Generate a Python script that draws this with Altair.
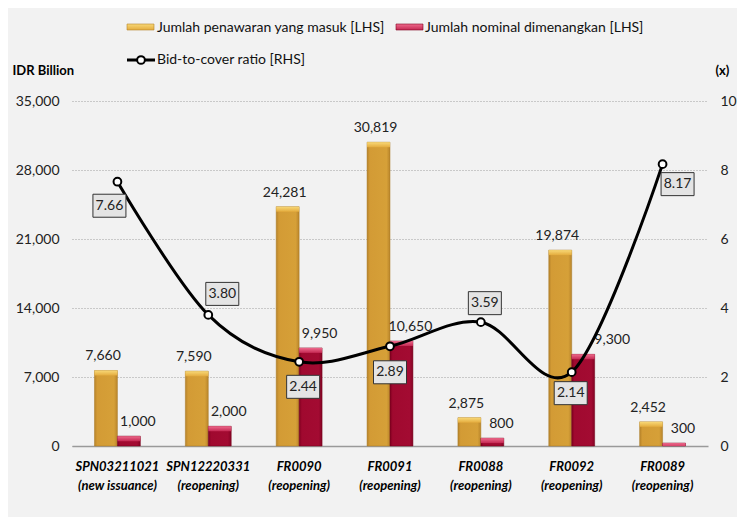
import altair as alt
import pandas as pd

# ---------------- data ----------------
CODES = ["SPN03211021", "SPN12220331", "FR0090", "FR0091", "FR0088", "FR0092", "FR0089"]
TYPES = ["(new issuance)", "(reopening)", "(reopening)", "(reopening)",
         "(reopening)", "(reopening)", "(reopening)"]
BIDS = [7660, 7590, 24281, 30819, 2875, 19874, 2452]
AWARDED = [1000, 2000, 9950, 10650, 800, 9300, 300]
RATIO = [7.66, 3.80, 2.44, 2.89, 3.59, 2.14, 8.17]
SERIES = ["Jumlah penawaran yang masuk [LHS]",
          "Jumlah nominal dimenangkan [LHS]",
          "Bid-to-cover ratio [RHS]"]
LEFT_TICKS = [0, 7000, 14000, 21000, 28000, 35000]
RIGHT_TICKS = [0, 2, 4, 6, 8, 10]

# ---------------- style ----------------
FONT = "Lato"
RATIO_LABEL_OFFSETS = [(-8, 24), (14, -21), (4, 25), (0, 26), (4, -19), (-1, 21), (15, 20)]
BOX_PATH = "M-1,-0.697L1,-0.697L1,0.697L-1,0.697Z"

labels = [f"{c}|{t}" for c, t in zip(CODES, TYPES)]

bar_df = pd.DataFrame({
    "label": labels * 2,
    "code": CODES * 2,
    "series": [SERIES[0]] * len(CODES) + [SERIES[1]] * len(CODES),
    "value": BIDS + AWARDED,
})
line_df = pd.DataFrame({"label": labels, "ratio": RATIO, "idx": list(range(len(CODES)))})

x_scale = alt.Scale(domain=labels, paddingInner=0.495, paddingOuter=0.2475)
x_axis = alt.Axis(
    title=None, labelExpr="split(datum.label, '|')", labelAngle=0,
    labelFontSize=13, labelFontWeight="bold", labelFontStyle="italic",
    labelColor="#000000", labelLineHeight=19, labelPadding=14,
    labelBaseline="top", domain=True, domainColor="#9a9a9a", domainWidth=1.5,
    ticks=False, grid=False, labelFont=FONT)
X = alt.X("label:N", sort=labels, scale=x_scale, axis=x_axis)
XOFF = alt.XOffset("series:N", sort=SERIES[:2], scale=alt.Scale(domain=SERIES[:2]))

y_left_axis = alt.Axis(
    values=LEFT_TICKS, labelExpr="format(datum.value, ',')", grid=True,
    gridDash=[1, 2], gridColor="#a0a0a0",
    gridWidth=1, domain=False, ticks=False, labelPadding=13, labelFontSize=14,
    labelColor="#222222", labelFont=FONT,
    title="IDR Billion", titleAngle=0, titleX=-60, titleY=-31, titleAlign="left",
    titleBaseline="middle", titleFontWeight="bold", titleFontSize=13,
    titleFont=FONT, titleColor="#000000")
YL = alt.Y("value:Q", scale=alt.Scale(domain=[0, 35000], nice=False, zero=True), axis=y_left_axis)

y_right_axis = alt.Axis(
    orient="right", values=RIGHT_TICKS, grid=False, domain=False, ticks=False,
    labelPadding=12, labelFontSize=14, labelColor="#222222", labelFont=FONT,
    title="(x)", titleAngle=0, titleX=7, titleY=-31, titleAlign="left",
    titleBaseline="middle", titleFontWeight="bold", titleFontSize=13,
    titleFont=FONT, titleColor="#000000")
YR = alt.Y("ratio:Q", scale=alt.Scale(domain=[0, 10], nice=False, zero=True), axis=y_right_axis)

gold_grad = alt.Gradient(gradient="linear", x1=0, x2=1, y1=0, y2=0, stops=[
    alt.GradientStop(color="#B7832A", offset=0),
    alt.GradientStop(color="#D39B35", offset=0.12),
    alt.GradientStop(color="#D6A038", offset=0.85),
    alt.GradientStop(color="#B9852B", offset=1)])
red_grad = alt.Gradient(gradient="linear", x1=0, x2=1, y1=0, y2=0, stops=[
    alt.GradientStop(color="#800020", offset=0),
    alt.GradientStop(color="#A0092F", offset=0.12),
    alt.GradientStop(color="#A30B32", offset=0.85),
    alt.GradientStop(color="#850324", offset=1)])
gold_bevel_grad = alt.Gradient(gradient="linear", x1=0, x2=0, y1=0, y2=1, stops=[
    alt.GradientStop(color="#F8D877", offset=0),
    alt.GradientStop(color="#E4AC3E", offset=1)])
red_bevel_grad = alt.Gradient(gradient="linear", x1=0, x2=0, y1=0, y2=1, stops=[
    alt.GradientStop(color="#EE6A8C", offset=0),
    alt.GradientStop(color="#C42852", offset=1)])

base_bar = alt.Chart(bar_df)
is_gold = alt.datum.series == SERIES[0]
is_red = alt.datum.series == SERIES[1]

bars_gold = base_bar.transform_filter(is_gold).mark_bar(
    fill=gold_grad, stroke="#A97A25", strokeWidth=0.5).encode(x=X, xOffset=XOFF, y=YL)
bars_red = base_bar.transform_filter(is_red).mark_bar(
    fill=red_grad, stroke="#700018", strokeWidth=0.5).encode(x=X, xOffset=XOFF, y=YL)
bevel_gold = base_bar.transform_filter(is_gold).mark_bar(
    fill=gold_bevel_grad, y2Offset=5, clip=True).encode(
    x=X, xOffset=XOFF, y=YL, y2=alt.Y2("value:Q"))
bevel_red = base_bar.transform_filter(is_red).mark_bar(
    fill=red_bevel_grad, y2Offset=5, clip=True).encode(
    x=X, xOffset=XOFF, y=YL, y2=alt.Y2("value:Q"))


def value_labels(filter_expr, dx):
    return base_bar.transform_filter(filter_expr).mark_text(
        font=FONT, fontSize=14, color="#222222", dx=dx, dy=-14, baseline="middle").encode(
        x=X, xOffset=XOFF, y=YL, text=alt.Text("value:Q", format=","))


lab_gold = value_labels(is_gold, -3)
lab_red = value_labels(is_red & (alt.datum.code != "FR0092"), 9)
lab_red_92 = value_labels(is_red & (alt.datum.code == "FR0092"), 29)

# ---------- legend (drawn manually above the plot) ----------
leg_base = alt.Chart(pd.DataFrame({"name": SERIES}))
leg_gold = leg_base.transform_filter(alt.datum.name == SERIES[0]).mark_rect(
    fill=gold_bevel_grad, stroke="#B7832A", strokeWidth=0.6).encode(
    x=alt.value(55), x2=alt.value(82), y=alt.value(-77), y2=alt.value(-71))
leg_red = leg_base.transform_filter(alt.datum.name == SERIES[1]).mark_rect(
    fill=red_bevel_grad, stroke="#800020", strokeWidth=0.6).encode(
    x=alt.value(324), x2=alt.value(351), y=alt.value(-77), y2=alt.value(-71))
leg_text1 = leg_base.transform_filter(alt.datum.name == SERIES[0]).mark_text(
    font=FONT, fontSize=14, color="#111111", align="left", baseline="middle").encode(
    x=alt.value(85), y=alt.value(-73), text="name:N")
leg_text2 = leg_base.transform_filter(alt.datum.name == SERIES[1]).mark_text(
    font=FONT, fontSize=14, color="#111111", align="left", baseline="middle").encode(
    x=alt.value(353), y=alt.value(-73), text="name:N")
leg_line = leg_base.transform_filter(alt.datum.name == SERIES[2]).mark_rule(
    color="#000000", strokeWidth=3).encode(
    x=alt.value(55), x2=alt.value(83), y=alt.value(-41))
leg_dot = leg_base.transform_filter(alt.datum.name == SERIES[2]).mark_point(
    shape="circle", size=60, filled=True, fill="#ffffff", stroke="#000000",
    strokeWidth=2, opacity=1).encode(x=alt.value(69), y=alt.value(-41))
leg_text3 = leg_base.transform_filter(alt.datum.name == SERIES[2]).mark_text(
    font=FONT, fontSize=14, color="#111111", align="left", baseline="middle").encode(
    x=alt.value(85), y=alt.value(-41), text="name:N")

bar_group = alt.layer(bars_gold, bars_red, bevel_gold, bevel_red,
                      lab_gold, lab_red, lab_red_92)

# ---------- ratio line ----------
base_line = alt.Chart(line_df)
line = base_line.mark_line(color="#000000", strokeWidth=3, interpolate="cardinal").encode(
    x=X, y=YR)
points = base_line.mark_point(shape="circle", size=60, filled=True, fill="#ffffff",
                              stroke="#000000", strokeWidth=2, opacity=1).encode(x=X, y=YR)

ratio_layers = []
for i, (dx, dy) in enumerate(RATIO_LABEL_OFFSETS):
    sub = base_line.transform_filter(alt.datum.idx == i)
    box = sub.mark_point(shape=BOX_PATH, size=1089, filled=True, fill="#e4e4e4",
                         stroke="#333333", strokeWidth=1, opacity=1,
                         xOffset=dx, yOffset=dy).encode(x=X, y=YR)
    txt = sub.mark_text(font=FONT, fontSize=14, color="#222222", dx=dx, dy=dy,
                        baseline="middle", align="center").encode(
        x=X, y=YR, text=alt.Text("ratio:Q", format=".2f"))
    ratio_layers += [box, txt]

line_group = alt.layer(line, points, *ratio_layers,
                       leg_gold, leg_red, leg_text1, leg_text2,
                       leg_line, leg_dot, leg_text3)

chart = alt.layer(bar_group, line_group).resolve_scale(y="independent").properties(
    width=636, height=345,
    autosize=alt.AutoSizeParams(type="none"),
    padding={"left": 64, "top": 93, "right": 29, "bottom": 71},
    background="#f2f2f2",
).configure_view(stroke=None)

chart.save("out.html", embed_options={"renderer": "svg", "actions": False})
